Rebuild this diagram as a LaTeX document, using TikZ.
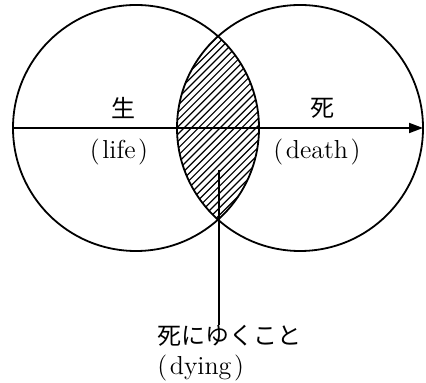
\documentclass[tikz,border=0pt]{standalone}
\usepackage{fontspec}
\newfontfamily\cjk{Noto Sans CJK JP}
\usetikzlibrary{arrows.meta}

\tikzset{
  ring/.style={line width=0.9pt},
  hatchline/.style={line width=0.6pt},
  lbl/.style={inner sep=0pt, font=\fontsize{13}{15}\selectfont},
  kanji/.style={inner sep=0pt, font=\fontsize{12}{15}\cjk},
}

\begin{document}
\begin{tikzpicture}[x=0.5pt, y=-0.5pt]
  \useasboundingbox (0,0) rectangle (426,383);

  % Circle centres
  \coordinate (lifeC)  at (136,128);
  \coordinate (deathC) at (300,128);

  % Hatched overlap (dying)
  \begin{scope}
    \clip (lifeC) circle[radius=61.5pt];
    \clip (deathC) circle[radius=61.5pt];
    \foreach \k in {0,...,60}{
      \pgfmathsetmacro\xs{-20 + \k*7.2}
      \draw[hatchline] (\xs,260) -- (\xs+260,0);
    }
  \end{scope}

  % Two circles
  \draw[ring] (lifeC) circle[radius=61.5pt];
  \draw[ring] (deathC) circle[radius=61.5pt];

  % Time axis
  \coordinate (axisL) at (13,128);
  \coordinate (axisR) at (423,128);
  \draw[ring, -{Triangle[length=7pt, width=5pt]}] (axisL) -- (axisR);

  % Labels
  \node[kanji] (sei) at (123,108) {生};
  \node[kanji] (shi) at (322,108) {死};
  \node[lbl] (life)  at (119,152) {(\hspace{0.1em}life\hspace{0.1em})};
  \node[lbl] (death) at (317,152) {(\hspace{0.1em}death\hspace{0.1em})};

  % Pointer to the overlap
  \coordinate (lensdot) at (219,170);
  \node[lbl, anchor=north west, align=left] (dying) at (157,325)
    {{\cjk\fontsize{12}{15}\selectfont 死にゆくこと}\\(\hspace{0.1em}dying\hspace{0.1em})};
  \draw[line width=0.8pt] (lensdot) -- (lensdot |- dying.north);
\end{tikzpicture}
\end{document}
